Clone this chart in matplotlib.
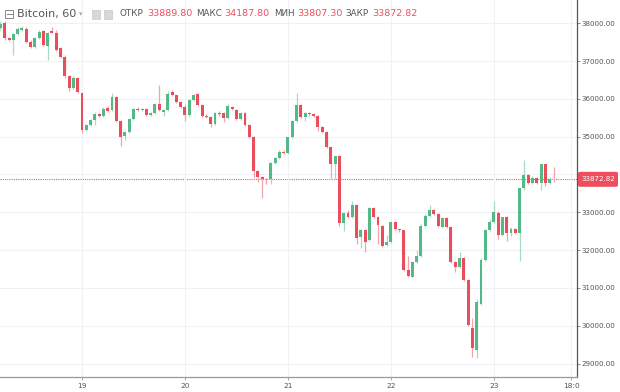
import numpy as np
import matplotlib
matplotlib.use("Agg")
import matplotlib.pyplot as plt
from matplotlib.patches import Rectangle, FancyBboxPatch

## hourly candles, hour 0 = day 19 00:00
hours = np.arange(-19, 111)

opens = [37870, 38000, 37600, 37560, 37710, 37830, 37850, 37515, 37370, 37600,
         37800, 37410, 37800, 37755, 37340, 37120, 36605, 36300, 36560,
         36150, 35180, 35310, 35440, 35590, 35560, 35750, 35700, 36060, 35415,
         35030, 35115, 35470, 35735, 35705, 35735, 35575, 35635, 35865, 35665,
         35705, 36175, 36090, 35910, 35795, 35575, 35970,
         36130, 35840, 35550, 35510, 35330, 35620, 35620, 35505, 35780, 35705,
         35460, 35620, 35310, 35000, 34100, 33925, 33880, 33880, 34315, 34445,
         34605, 34575, 34985, 35425, 35840, 35530, 35635, 35590, 35545, 35265,
         35135, 34735, 34270, 34490, 32710, 32975, 32885, 33195, 32355, 32530,
         32260, 33105, 32865, 32640, 32135, 32225, 32750, 32550, 32520, 31475,
         31300, 31695, 31845, 32640, 32910, 33050, 32955, 32605, 32840, 32605,
         31695, 31560, 31780, 31210, 29930, 29360, 30575, 31740, 32530, 32750,
         32990, 32400, 32870, 32460, 32560, 32460, 33635, 33985, 33785, 33915,
         33765, 34270, 33785, 33890]
highs = [38050, 38060, 37650, 37740, 37900, 37920, 37900, 37560, 37640, 37820,
         37830, 37780, 37900, 37820, 37380, 37150, 36640, 36600, 36590,
         36180, 35340, 35480, 35650, 35620, 35780, 35800, 36150, 36080, 35450,
         35140, 35500, 35760, 35790, 35770, 35760, 35660, 35900, 36370, 35720,
         36200, 36230, 36110, 35940, 35830, 36000, 36140,
         36160, 35870, 35600, 35540, 35650, 35680, 35660, 35860, 35810, 35730,
         35660, 35650, 35340, 35030, 34130, 33960, 33900, 34330, 34470, 34640,
         34640, 35000, 35450, 36150, 35870, 35660, 35660, 35620, 35570, 35290,
         35160, 34760, 34500, 34520, 33000, 33050, 33300, 33220, 32560, 32560,
         33130, 33140, 32900, 32670, 32400, 32780, 32780, 32570, 32540, 31850,
         31720, 32000, 32680, 32950, 33200, 33080, 32990, 32870, 32870, 32640,
         31720, 31950, 31810, 31240, 30200, 30700, 31800, 32560, 32820, 33290,
         33040, 32870, 32900, 32600, 32590, 33650, 34380, 34010, 33950, 33940,
         34290, 34290, 33930, 34190]
lows = [37820, 37560, 37520, 37160, 37680, 37800, 37480, 37340, 37340, 37580,
        37400, 37030, 37730, 37270, 37080, 36560, 36200, 36270, 36150,
        35100, 35150, 35280, 35300, 35530, 35520, 35650, 35680, 35380, 34760,
        34900, 35090, 35440, 35680, 35690, 35550, 35550, 35600, 35690, 35560,
        35690, 36070, 35890, 35770, 35420, 35540, 35950,
        35820, 35520, 35500, 35250, 35300, 35560, 35380, 35480, 35700, 35430,
        35430, 35280, 34970, 33930, 33800, 33370, 33760, 33760, 34290, 34420,
        34550, 34550, 34960, 35400, 35500, 35420, 35560, 35520, 35150, 35100,
        34700, 33900, 33870, 32650, 32500, 32850, 32860, 32150, 32060, 31960,
        32230, 32860, 32150, 32080, 32100, 32200, 32520, 32480, 31440, 31280,
        31280, 31670, 31820, 32610, 32880, 32930, 32600, 32580, 32580, 31670,
        31420, 31530, 31180, 29990, 29180, 29150, 30550, 31710, 32500, 32720,
        32300, 32380, 32250, 32380, 32440, 31700, 33580, 33760, 33750, 33740,
        33600, 33690, 33760, 33810]
closes = [37990, 37600, 37560, 37710, 37850, 37885, 37515, 37385, 37600, 37780,
          37430, 37750, 37755, 37295, 37120, 36605, 36300, 36560, 36175,
          35180, 35310, 35440, 35590, 35560, 35725, 35680, 36060, 35415, 35000,
          35115, 35470, 35725, 35705, 35735, 35575, 35635, 35855, 35705, 35705,
          36120, 36090, 35910, 35795, 35575, 35970, 36105,
          35840, 35550, 35530, 35330, 35620, 35590, 35505, 35820, 35725, 35460,
          35635, 35310, 35000, 34100, 33925, 33880, 33870, 34315, 34445, 34605,
          34575, 34985, 35425, 35840, 35530, 35635, 35590, 35545, 35265, 35135,
          34735, 34270, 34490, 32710, 32975, 32880, 33195, 32310, 32530, 32225,
          33105, 32885, 32665, 32110, 32225, 32750, 32550, 32520, 31475, 31315,
          31695, 31845, 32640, 32910, 33050, 32955, 32625, 32840, 32605, 31695,
          31560, 31780, 31210, 30020, 29400, 30635, 31740, 32530, 32750, 33015,
          32400, 32870, 32460, 32560, 32460, 33635, 33985, 33785, 33915, 33765,
          34270, 33785, 33890, 33873]

last_price = 33872.82
header_vals = ["33889.80", "34187.80", "33807.30", "33872.82"]
header_keys = ["ОТКР", "МАКС", "МИН", "ЗАКР"]
yticks = [29000, 30000, 31000, 32000, 33000, 34000, 35000, 36000, 37000, 38000]
xticks = [0, 24, 48, 72, 96, 114]
xlabels = ["19", "20", "21", "22", "23", "18:0"]

up_col = "#53b987"
dn_col = "#eb4d5c"
up_wick = "#a8dcc2"
dn_wick = "#f4a3ab"

fig = plt.figure(figsize=(6.2, 3.92), dpi=100)
W, H = 620.0, 392.0
ax = fig.add_axes([0, 15 / H, 577 / W, 377 / H])

o = np.array(opens, float)
c = np.array(closes, float)
up = c >= o
ax.vlines(hours[up], np.array(lows)[up], np.array(highs)[up], color=up_wick, lw=0.9, zorder=2)
ax.vlines(hours[~up], np.array(lows)[~up], np.array(highs)[~up], color=dn_wick, lw=0.9, zorder=2)
body_low = np.minimum(o, c)
body_h = np.maximum(np.abs(c - o), 15)
ax.bar(hours, body_h, bottom=body_low, width=0.68,
       color=np.where(up, up_col, dn_col), linewidth=0, zorder=3)

ax.axhline(last_price, color="#ef5a65", lw=0.8, ls=(0, (1, 1)), zorder=1)

ax.set_xlim(-19.11, 115.38)
ax.set_ylim(28643, 38616)
ax.set_xticks(xticks)
ax.set_xticklabels(xlabels)
ax.set_yticks(yticks)
ax.set_yticklabels(["%.2f" % v for v in yticks])
ax.yaxis.tick_right()
ax.tick_params(axis="y", length=2, width=0.6, color="#777", labelsize=5.1,
               labelcolor="#555", pad=1.2)
ax.tick_params(axis="x", length=2, width=0.6, color="#999", labelsize=5.3,
               labelcolor="#555", pad=2)
ax.grid(True, color="#eef1f5", lw=0.8, zorder=0)
for s in ["top", "left"]:
    ax.spines[s].set_visible(False)
ax.spines["right"].set_color("#555")
ax.spines["right"].set_linewidth(0.9)
ax.spines["bottom"].set_color("#999")
ax.spines["bottom"].set_linewidth(0.9)

def fx(px):
    return px / W

def fy(py):
    return 1 - py / H

## price tag on the right axis
yp = ax.transData.transform((0, last_price))[1] / H
fig.patches.append(FancyBboxPatch((fx(578), yp - 7.5 / H), 40 / W, 15 / H,
                                  boxstyle="round,pad=0,rounding_size=0.004",
                                  transform=fig.transFigure, fc="#ee4e5e", ec="none",
                                  zorder=5))
fig.text(fx(598), yp, "%.2f" % last_price, color="white", fontsize=5.1,
         ha="center", va="center", zorder=6)

## header
fig.patches.append(Rectangle((fx(5), fy(18)), 8 / W, 8 / H, transform=fig.transFigure,
                             fc="none", ec="#888", lw=0.7))
fig.lines.append(plt.Line2D([fx(6.5), fx(11.5)], [fy(14), fy(14)], transform=fig.transFigure,
                            color="#888", lw=0.7))
fig.text(fx(17), fy(14), "Bitcoin, 60", color="#555", fontsize=8, va="center")
fig.text(fx(79), fy(14), "▾", color="#aaa", fontsize=5, va="center")
for px in [92, 104]:
    fig.patches.append(Rectangle((fx(px), fy(18.5)), 8 / W, 9 / H, transform=fig.transFigure,
                                 fc="#d8d8d8", ec="#c8c8c8", lw=0.5))
key_x = [120, 196, 274, 345]
val_x = [147, 224, 297, 372]
for k, v, kx, vx in zip(header_keys, header_vals, key_x, val_x):
    fig.text(fx(kx), fy(14), k, color="#555", fontsize=6.3, va="center")
    fig.text(fx(vx), fy(14), v, color="#ee4e5e", fontsize=6.8, va="center")

fig.savefig("out.png", dpi=100, facecolor="white")
